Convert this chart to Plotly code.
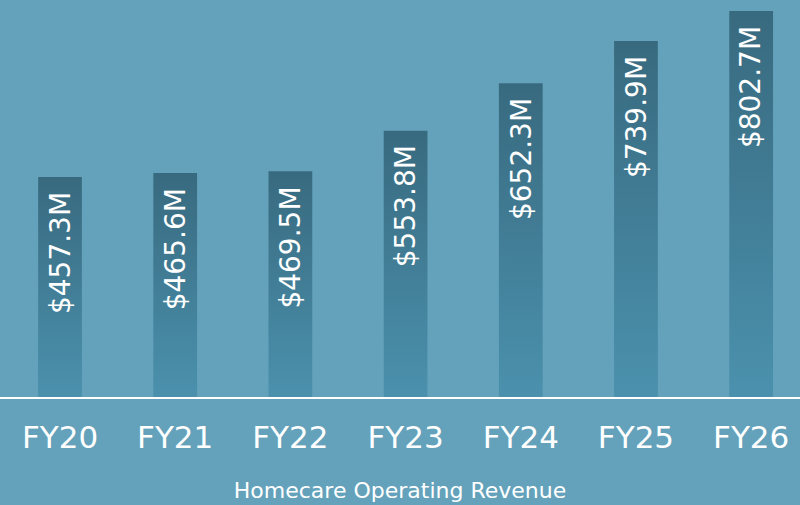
import plotly.graph_objs as go

years = ["FY20", "FY21", "FY22", "FY23", "FY24", "FY25", "FY26"]
revenue = [457.3, 465.6, 469.5, 553.8, 652.3, 739.9, 802.7]
labels = ["$457.3M", "$465.6M", "$469.5M", "$553.8M", "$652.3M", "$739.9M", "$802.7M"]

bg = '#64a2bb'
bar_w = 0.38
fnt = 'DejaVu Sans'

fig = go.Figure()

# plotly bars have no gradient, so each bar is a filled rectangle with fillgradient
for i, v in enumerate(revenue):
    x0, x1 = i - bar_w / 2, i + bar_w / 2
    fig.add_trace(go.Scatter(
        x=[x0, x1, x1, x0, x0], y=[0, 0, v, v, 0],
        mode='lines', line=dict(width=0), fill='toself',
        fillgradient=dict(type='vertical',
                          colorscale=[[0, '#4b91ad'], [1, '#386a7f']]),
        hoverinfo='skip', showlegend=False))
    fig.add_annotation(x=i, y=v, text=labels[i], textangle=-90,
                       showarrow=False, yanchor='top', yshift=-13,
                       font=dict(family=fnt, size=28, color='white'))

fig.update_layout(
    width=800, height=505,
    paper_bgcolor=bg, plot_bgcolor=bg,
    margin=dict(l=0, r=0, t=0, b=108),
    showlegend=False,
    font=dict(family=fnt, color='white'),
)
fig.update_xaxes(range=[-0.521, 6.424], tickvals=list(range(len(years))), ticktext=years,
                 showgrid=False, zeroline=False, showline=True, linecolor='white', linewidth=2,
                 ticks='', ticklen=0, ticklabelstandoff=12, tickfont=dict(size=31, color='white'),
                 title=dict(text='Homecare Operating Revenue', font=dict(size=22, color='white'), standoff=28))
fig.update_yaxes(range=[0, 825.4], showgrid=False, zeroline=False, showticklabels=False, showline=False)

fig.write_html("out.html", config={'displayModeBar': False},
               post_script="document.body.style.margin='0';")
